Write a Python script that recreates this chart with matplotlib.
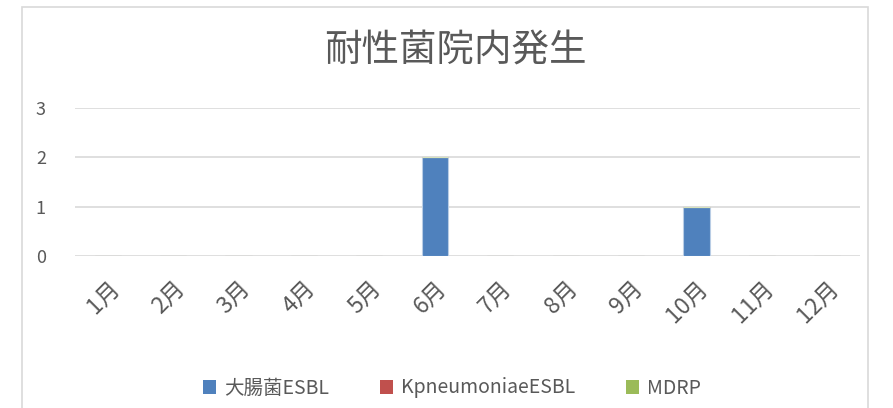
import matplotlib
matplotlib.use('Agg')
import matplotlib.pyplot as plt
from matplotlib.patches import Rectangle, Patch
import numpy as np

plt.rcParams['font.family'] = ['Noto Sans CJK JP', 'DejaVu Sans']

months = ['1月', '2月', '3月', '4月', '5月', '6月', '7月', '8月', '9月', '10月', '11月', '12月']
ecoli_esbl = [0, 0, 0, 0, 0, 2, 0, 0, 0, 1, 0, 0]
kpneu_esbl = [0, 0, 0, 0, 0, 0, 0, 0, 0, 0, 0, 0]
mdrp = [0, 0, 0, 0, 0, 0, 0, 0, 0, 0, 0, 0]
series_names = ['大腸菌ESBL', 'KpneumoniaeESBL', 'MDRP']
colors = ['#4F81BD', '#C0504D', '#9BBB59']
edges = ['#B9CDE5', '#E6B9B8', '#D7E4BD']

text_col = '#595959'
grid_col = '#D9D9D9'

fig = plt.figure(figsize=(8.93, 4.08), dpi=100)
W, H = 893, 408

# chart frame (bottom edge is cut off in the reference)
fig.patches.append(Rectangle((22 / W, -0.1), (868 - 22) / W, 1.1 - 7 / H,
                             transform=fig.transFigure, fill=False,
                             edgecolor=grid_col, linewidth=1.2))

ax = fig.add_axes([75 / W, 1 - 256 / H, (860 - 75) / W, (256 - 108) / H])
x = np.arange(len(months))
bottom = np.zeros(len(months))
for vals, c, ec in zip([ecoli_esbl, kpneu_esbl, mdrp], colors, edges):
    v = np.array(vals, dtype=float)
    ax.bar(x, v, width=0.4, bottom=bottom, color=c, edgecolor=ec,
           linewidth=0.8, zorder=3)
    bottom += v

ax.set_xlim(-0.5, len(months) - 0.5)
ax.set_ylim(0, 3)
ax.set_yticks([0, 1, 2, 3])
ax.yaxis.grid(True, color=grid_col, linewidth=1.2, zorder=0)
ax.set_axisbelow(True)
for s in ax.spines.values():
    s.set_visible(False)
ax.tick_params(length=0)
ax.tick_params(axis='y', labelsize=13, labelcolor=text_col, pad=21)
ax.set_xticks(x)
ax.set_xticklabels(months, rotation=45, ha='right', va='top',
                   rotation_mode='anchor', fontsize=16.5, color=text_col)
ax.tick_params(axis='x', pad=15)

fig.text(455 / W, 1 - 51 / H, '耐性菌院内発生', ha='center', va='center',
         fontsize=27, color=text_col)

handles = [Patch(facecolor=c) for c in colors]
fig.legend(handles, series_names, loc='center', bbox_to_anchor=(452 / W, 1 - 388 / H),
           ncol=3, frameon=False, fontsize=14, labelcolor=text_col,
           handlelength=0.7, handleheight=0.7, handletextpad=0.4, columnspacing=2.6)

fig.savefig('out.png', dpi=100)
